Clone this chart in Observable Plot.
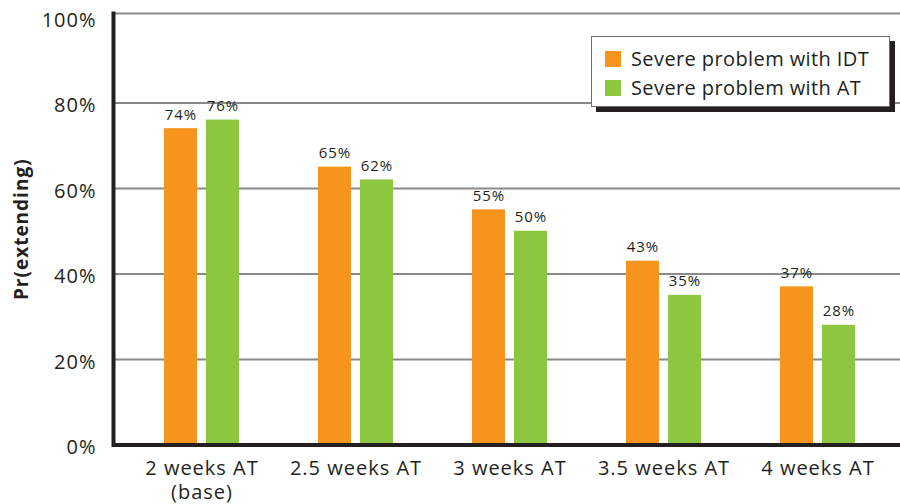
<!DOCTYPE html>
<html>
<head>
<meta charset="utf-8">
<script src="https://cdn.jsdelivr.net/npm/d3@7"></script>
<script src="https://cdn.jsdelivr.net/npm/@observablehq/plot@0.6"></script>
<style>
  html, body { margin: 0; padding: 0; background: #fff; }
  #wrap { position: relative; width: 900px; height: 504px; font-family: "Open Sans", sans-serif; color: #231f20; }
  #legend {
    position: absolute; left: 591px; top: 36px; width: 299px; height: 71px;
    background: #fff; border: 1.5px solid #6d6d6d; box-shadow: 5px 5px 0 #231f20;
    font-size: 20px; letter-spacing: 0.4px; box-sizing: border-box;
  }
  .item { position: absolute; left: 13px; display: flex; align-items: center; height: 28px; }
  .item .sw { width: 16px; height: 16px; margin-right: 10px; }
  .item span { line-height: 28px; white-space: nowrap; }
</style>
</head>
<body>
<div id="wrap"></div>
<script>
// Scenario categories along the x axis
const scenarios = ["2 weeks AT", "2.5 weeks AT", "3 weeks AT", "3.5 weeks AT", "4 weeks AT"];
const scenarioLabels = ["2 weeks AT\n(base)", "2.5 weeks AT", "3 weeks AT", "3.5 weeks AT", "4 weeks AT"];

// Probability of extending, per series
const seriesNames = ["Severe problem with IDT", "Severe problem with AT"];
const idtValues = [0.74, 0.65, 0.55, 0.43, 0.37];
const atValues = [0.76, 0.62, 0.50, 0.35, 0.28];
const seriesColors = ["#f7941d", "#8dc63f"];

// Axis ticks
const yTicks = [0, 0.2, 0.4, 0.6, 0.8, 1.0];
const gridTicks = [0.2, 0.4, 0.6, 0.8];

const ink = "#231f20";
const pct = d3.format(".0%");

const idt = scenarios.map((s, i) => ({scenario: s, value: idtValues[i]}));
const at = scenarios.map((s, i) => ({scenario: s, value: atValues[i]}));

// Each pair of bars shares one band; insets split it into a left and a right bar
const barW = 33, gap = 9;
const half = (barW * 2 + gap) / 2; // 37.5
const offset = half - barW / 2;     // label center relative to band center

const chart = Plot.plot({
  width: 900,
  height: 504,
  marginLeft: 113,
  marginRight: 0,
  marginTop: 13,
  marginBottom: 59.5,
  style: {fontFamily: "Open Sans, sans-serif", fontSize: "20px", color: ink, background: "#fff", letterSpacing: "1px"},
  x: {domain: scenarios, range: [163, 856], paddingInner: 1 - 75 / 154.5, paddingOuter: 0},
  y: {domain: [0, 1], insetTop: 4},
  marks: [
    Plot.ruleY(gridTicks, {stroke: "#8a8a8a", strokeWidth: 2}),
    Plot.frame({anchor: "top", stroke: "#8a8a8a", strokeWidth: 2}),
    Plot.barY(idt, {x: "scenario", y: "value", fill: seriesColors[0], insetRight: barW + gap}),
    Plot.barY(at, {x: "scenario", y: "value", fill: seriesColors[1], insetLeft: barW + gap}),
    Plot.text(idt, {x: "scenario", y: "value", text: d => pct(d.value), dx: -offset, dy: -9, lineAnchor: "bottom", fontSize: 15, letterSpacing: "0.5px", fill: ink}),
    Plot.text(at, {x: "scenario", y: "value", text: d => pct(d.value), dx: offset, dy: -9, lineAnchor: "bottom", fontSize: 15, letterSpacing: "0.5px", fill: ink}),
    Plot.axisY({ticks: yTicks, tickFormat: pct, tickSize: 0, tickPadding: 17, dy: 3, label: null, fill: ink}),
    Plot.axisX({tickSize: 0, tickPadding: 13, tickFormat: (d, i) => scenarioLabels[i], lineHeight: 1.2, label: null, fill: ink}),
    Plot.frame({anchor: "left", stroke: ink, strokeWidth: 4}),
    Plot.ruleY([0], {stroke: ink, strokeWidth: 4}),
    Plot.text(["Pr(extending)"], {frameAnchor: "left", textAnchor: "middle", rotate: -90, dx: -92, fontWeight: "bold", fontSize: 19, letterSpacing: "0.3px", fill: ink})
  ]
});

const wrap = document.getElementById("wrap");
wrap.appendChild(chart);

// Legend box with a drop shadow, overlaid on the plot's top right
const legend = document.createElement("div");
legend.id = "legend";
seriesNames.forEach((name, i) => {
  const item = document.createElement("div");
  item.className = "item";
  item.style.top = (8 + i * 29) + "px";
  const sw = document.createElement("div");
  sw.className = "sw";
  sw.style.background = seriesColors[i];
  const label = document.createElement("span");
  label.textContent = name;
  item.appendChild(sw);
  item.appendChild(label);
  legend.appendChild(item);
});
wrap.appendChild(legend);
</script>
</body>
</html>
